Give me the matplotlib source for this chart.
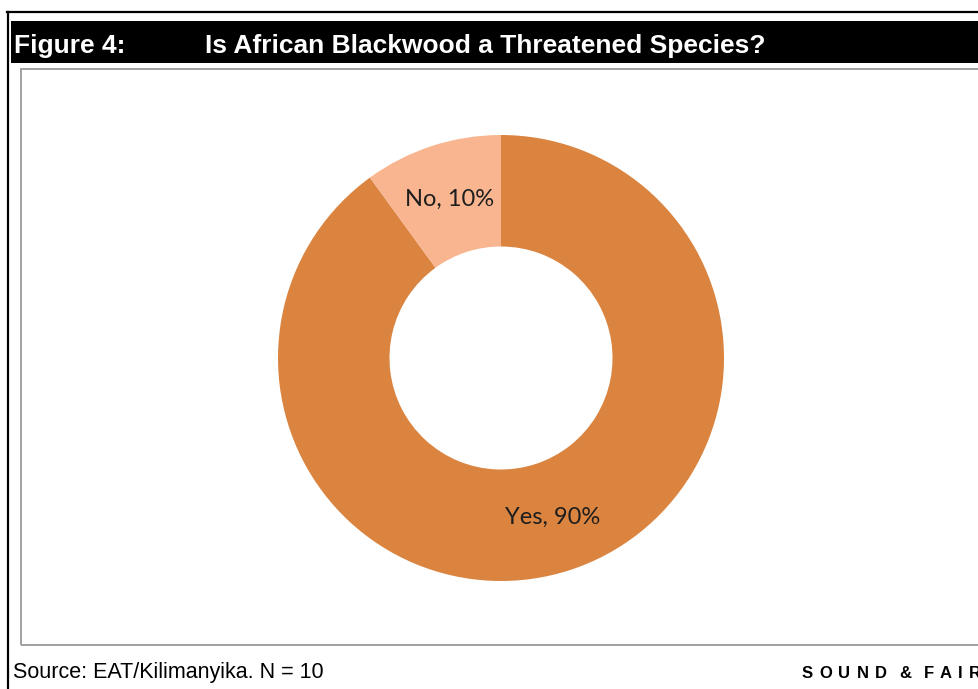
import matplotlib
matplotlib.use("Agg")
import matplotlib.pyplot as plt
from matplotlib.patches import Rectangle
from matplotlib.lines import Line2D

# Survey answers
categories = ["Yes", "No"]
shares = [90, 10]
slice_colors = ["#DA8440", "#F8B590"]

fig_title_num = "Figure 4:"
fig_title = "Is African Blackwood a Threatened Species?"
source_note = "Source: EAT/Kilimanyika. N = 10"
brand = "SOUND & FAIR"

W, H = 979, 689
fig = plt.figure(figsize=(W / 100, H / 100), dpi=100)
fig.patch.set_facecolor("white")


def fx(x):
    return x / W


def fy(y):
    return 1 - y / H


# page frame: black rule on top and left
fig.add_artist(Line2D([fx(7), fx(W + 5)], [fy(12), fy(12)], color="black", lw=1.6))
fig.add_artist(Line2D([fx(8), fx(8)], [fy(12), fy(H + 5)], color="black", lw=1.6))

# title band
fig.add_artist(Rectangle((fx(11), fy(63)), fx(W + 5) - fx(11), fy(21) - fy(63),
                         transform=fig.transFigure, facecolor="black", edgecolor="none"))
fig.text(fx(14), fy(53), fig_title_num, color="white", fontsize=19, fontweight="bold",
         family="Liberation Sans", va="baseline", ha="left")
fig.text(fx(205), fy(53), fig_title, color="white", fontsize=19, fontweight="bold",
         family="Liberation Sans", va="baseline", ha="left")

# chart frame
fig.add_artist(Rectangle((fx(21), fy(645)), fx(W + 20) - fx(21), fy(69) - fy(645),
                         transform=fig.transFigure, facecolor="none", edgecolor="#a0a0a0", lw=1.4))

# donut chart
cx, cy, r = 501, 358, 223
ax = fig.add_axes([fx(cx - r), fy(cy + r), fx(2 * r), (2 * r) / H])
labels = [f"{c}, {v}%" for c, v in zip(categories, shares)]
wedges, texts = ax.pie(shares, labels=labels, colors=slice_colors, startangle=90,
                       counterclock=False, labeldistance=0.75, radius=1.0,
                       wedgeprops=dict(width=0.5, edgecolor="none"),
                       textprops=dict(ha="center", va="center", fontsize=17,
                                      family="Lato", color="#1e1e1e"))
ax.set_xlim(-1, 1)
ax.set_ylim(-1, 1)
ax.set_aspect("equal")
ax.axis("off")

# footer
fig.text(fx(13), fy(678), source_note, fontsize=15.5, family="Liberation Sans",
         va="baseline", ha="left", color="black")

# letter-spaced brand mark
renderer = fig.canvas.get_renderer()
x = 802
tracking = 6.2
for ch in brand:
    t = fig.text(fx(x), fy(678), ch, fontsize=12, fontweight="bold", family="Liberation Sans",
                 va="baseline", ha="left", color="black")
    w = t.get_window_extent(renderer).width if ch != " " else 0.0
    x += w + tracking

fig.savefig("out.png", dpi=100)
